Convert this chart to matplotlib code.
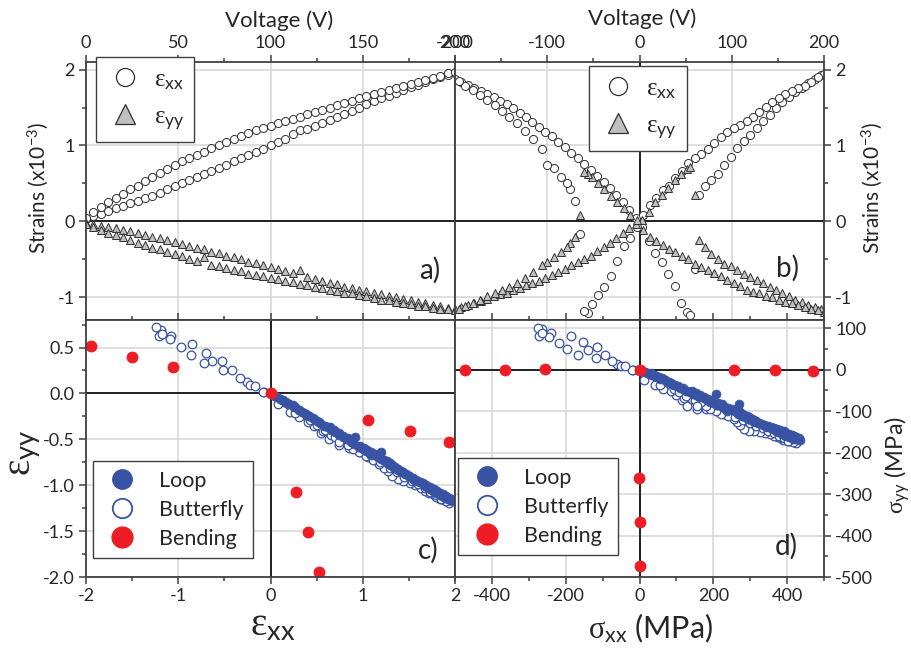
import numpy as np
import matplotlib
matplotlib.use('Agg')
import matplotlib.pyplot as plt
from matplotlib.lines import Line2D
from matplotlib.ticker import MultipleLocator, FormatStrFormatter

plt.rcParams['font.family'] = ['Lato', 'DejaVu Sans']
plt.rcParams['mathtext.fontset'] = 'custom'
plt.rcParams['mathtext.rm'] = 'Liberation Serif'
plt.rcParams['mathtext.it'] = 'Liberation Serif:italic'
plt.rcParams['mathtext.sf'] = 'Lato'
plt.rcParams['mathtext.fallback'] = 'stix'
plt.rcParams['axes.unicode_minus'] = False

# ---- panel a: loop, strains (x1e-3) vs voltage, 0 -> 200 V
volts_a = [0, 4, 8, 12, 16, 20, 24, 28, 32, 36, 40, 44, 48, 52, 56, 60, 64, 68, 72, 76,
           80, 84, 88, 92, 96, 100, 104, 108, 112, 116, 120, 124, 128, 132, 136, 140, 144,
           148, 152, 156, 160, 164, 168, 172, 176, 180, 184, 188, 192, 196, 200]
exx_a_up = [0.03, 0.07, 0.10, 0.14, 0.17, 0.20, 0.24, 0.27, 0.31, 0.34, 0.38, 0.42, 0.46,
            0.50, 0.54, 0.58, 0.62, 0.66, 0.70, 0.74, 0.79, 0.83, 0.87, 0.91, 0.96, 1.00,
            1.04, 1.08, 1.15, 1.20, 1.22, 1.26, 1.30, 1.34, 1.38, 1.42, 1.46, 1.50, 1.54,
            1.58, 1.62, 1.65, 1.69, 1.73, 1.77, 1.80, 1.84, 1.87, 1.90, 1.93, 1.96]
eyy_a_up = [-0.02, -0.04, -0.06, -0.07, -0.09, -0.11, -0.13, -0.15, -0.18, -0.20, -0.22,
            -0.25, -0.27, -0.30, -0.32, -0.35, -0.37, -0.40, -0.42, -0.45, -0.47, -0.50,
            -0.53, -0.55, -0.58, -0.60, -0.63, -0.66, -0.68, -0.64, -0.73, -0.76, -0.78,
            -0.81, -0.83, -0.86, -0.88, -0.90, -0.92, -0.94, -0.96, -0.98, -1.00, -1.02,
            -1.04, -1.06, -1.08, -1.10, -1.12, -1.14, -1.15]
exx_a_dn = [0.05, 0.12, 0.19, 0.25, 0.31, 0.36, 0.42, 0.47, 0.53, 0.59, 0.64, 0.69, 0.74,
            0.79, 0.84, 0.88, 0.92, 0.97, 1.01, 1.05, 1.09, 1.13, 1.17, 1.20, 1.23, 1.26,
            1.29, 1.32, 1.35, 1.38, 1.41, 1.44, 1.47, 1.50, 1.53, 1.56, 1.59, 1.62, 1.65,
            1.68, 1.71, 1.73, 1.76, 1.79, 1.81, 1.84, 1.86, 1.89, 1.92, 1.95, 1.97]
eyy_a_dn = [-0.03, -0.07, -0.11, -0.15, -0.18, -0.21, -0.25, -0.28, -0.31, -0.35, -0.37,
            -0.40, -0.43, -0.46, -0.49, -0.52, -0.47, -0.57, -0.59, -0.62, -0.64, -0.66,
            -0.69, -0.71, -0.72, -0.74, -0.76, -0.78, -0.80, -0.82, -0.84, -0.86, -0.88,
            -0.90, -0.92, -0.94, -0.95, -0.97, -0.99, -1.01, -1.03, -1.04, -1.06, -1.08,
            -1.09, -1.11, -1.12, -1.14, -1.15, -1.16, -1.17]

# ---- panel b: butterfly, -200 -> 200 V and back
volts_b_up = [-200, -193, -186, -179, -172, -165, -158, -151, -144, -137, -130, -123, -116,
              -109, -102, -95, -88, -81, -74, -67, -60, -53, -46, -39, -32, -25, -18, -11, -4,
              3, 10, 17, 24, 31, 38, 45, 51, 55, 60, 64, 71, 78, 85, 92, 99, 106, 113, 120,
              127, 134, 141, 148, 155, 162, 169, 176, 183, 190, 197]
exx_b_up = [1.88, 1.84, 1.80, 1.76, 1.72, 1.68, 1.64, 1.59, 1.54, 1.49, 1.43, 1.37, 1.31,
            1.25, 1.18, 1.12, 1.05, 0.98, 0.90, 0.83, 0.76, 0.68, 0.60, 0.52, 0.44, 0.35,
            0.25, 0.15, 0.05,
            -0.07, -0.26, -0.42, -0.53, -0.70, -0.85, -1.08, -1.19, -1.24, -0.63, 0.35, 0.47,
            0.55, 0.63, 0.74, 0.85, 0.97, 1.06, 1.14, 1.23, 1.32, 1.40, 1.49, 1.57, 1.64,
            1.70, 1.76, 1.82, 1.88, 1.93]
eyy_b_up = [-1.16, -1.13, -1.10, -1.07, -1.05, -1.02, -0.99, -0.96, -0.94, -0.91, -0.88,
            -0.84, -0.81, -0.78, -0.75, -0.71, -0.67, -0.63, -0.58, -0.54, -0.49, -0.45,
            -0.39, -0.34, -0.28, -0.22, -0.15, -0.09, -0.03,
            0.02, 0.12, 0.25, 0.35, 0.44, 0.54, 0.63, 0.69, 0.72, 0.35, -0.24, -0.34, -0.43,
            -0.50, -0.56, -0.59, -0.64, -0.69, -0.73, -0.77, -0.81, -0.86, -0.90, -0.95,
            -0.99, -1.03, -1.06, -1.10, -1.13, -1.16]
volts_b_dn = [200, 193, 186, 179, 172, 165, 158, 151, 144, 137, 130, 123, 116, 109, 102, 95,
              88, 81, 74, 67, 60, 53, 46, 39, 32, 25, 18, 11, 4,
              -3, -10, -17, -24, -31, -38, -45, -51, -56, -60, -65, -70, -75, -79, -85, -93,
              -100, -106, -115, -124, -133, -141, -149, -157, -165, -173, -181, -189, -196]
exx_b_dn = [1.94, 1.90, 1.84, 1.79, 1.76, 1.72, 1.68, 1.63, 1.57, 1.51, 1.44, 1.38, 1.32,
            1.27, 1.23, 1.18, 1.11, 1.03, 0.96, 0.89, 0.84, 0.77, 0.66, 0.57, 0.47, 0.41,
            0.31, 0.21, 0.08,
            -0.08, -0.22, -0.33, -0.52, -0.72, -0.86, -0.97, -1.09, -1.21, -1.18, -0.17,
            0.27, 0.43, 0.50, 0.59, 0.70, 0.74, 0.96, 1.09, 1.19, 1.29, 1.37, 1.45, 1.53,
            1.60, 1.67, 1.73, 1.79, 1.85]
eyy_b_dn = [-1.19, -1.17, -1.15, -1.13, -1.10, -1.08, -1.06, -1.03, -1.00, -0.98, -0.95,
            -0.93, -0.90, -0.85, -0.81, -0.77, -0.72, -0.68, -0.64, -0.60, -0.56, -0.50,
            -0.45, -0.41, -0.36, -0.31, -0.26, -0.20, -0.12,
            0.02, 0.09, 0.17, 0.25, 0.33, 0.42, 0.51, 0.59, 0.63, 0.65, 0.08, -0.21, -0.29,
            -0.34, -0.40, -0.47, -0.53, -0.58, -0.67, -0.75, -0.81, -0.86, -0.91, -0.95,
            -0.99, -1.03, -1.07, -1.11, -1.15]

# ---- bending reference points (strain x1e-3)
exx_bend = [-1.95, -1.50, -1.06, 0.0, 1.06, 1.51, 1.94, 0.28, 0.41, 0.525]
eyy_bend = [0.52, 0.40, 0.29, 0.0, -0.29, -0.41, -0.53, -1.07, -1.51, -1.95]

# plane-stress conversion, strains in 1e-3 -> MPa
E_mod = 243e3
nu = 0.267


def stress(exx, eyy):
    exx = np.asarray(exx) * 1e-3
    eyy = np.asarray(eyy) * 1e-3
    k = E_mod / (1 - nu ** 2)
    return k * (exx + nu * eyy), k * (eyy + nu * exx)


W, H = 911, 654
fig = plt.figure(figsize=(W / 100, H / 100), dpi=100)


def box(x0, y0, x1, y1):
    return [x0 / W, 1 - y1 / H, (x1 - x0) / W, (y1 - y0) / H]


def fpos(x, y):
    return x / W, 1 - y / H


ax_a = fig.add_axes(box(86, 62, 455, 320))
ax_b = fig.add_axes(box(455, 62, 824, 320))
ax_c = fig.add_axes(box(86, 320, 455, 577))
ax_d = fig.add_axes(box(455, 320, 824, 577))

spine_col = '#404040'
txt_col = '#262626'
grid_col = '#d6d6d6'
blue = '#3953a4'
red = '#ee1c24'

for ax in (ax_a, ax_b, ax_c, ax_d):
    for s in ax.spines.values():
        s.set_color(spine_col)
        s.set_linewidth(1.3)
    ax.tick_params(which='both', direction='out', color=spine_col,
                   labelsize=13, labelcolor=txt_col)
    ax.tick_params(which='major', length=5, width=1.1, pad=3)
    ax.tick_params(which='minor', length=3, width=1.1)
    ax.grid(True, which='major', color=grid_col, lw=1.1)
    ax.set_axisbelow(True)
    ax.axhline(0, color='black', lw=1.2, zorder=1)

# ---------- a)
ax = ax_a
ax.set_xlim(0, 200)
ax.set_ylim(-1.3, 2.1)
ax.xaxis.set_major_locator(MultipleLocator(50))
ax.xaxis.set_minor_locator(MultipleLocator(25))
ax.yaxis.set_major_locator(MultipleLocator(1))
ax.yaxis.set_minor_locator(MultipleLocator(0.5))
ax.tick_params(axis='x', which='both', top=True, bottom=False, labeltop=True, labelbottom=False)
ax.tick_params(axis='y', which='both', left=True, right=True, labelleft=True, labelright=False)
circ = dict(ls='none', marker='o', ms=5.8, mfc='white', mec='#303030', mew=0.7)
tri = dict(ls='none', marker='^', ms=6.4, mfc='#c0c0c0', mec='#303030', mew=0.7)
ax.plot(volts_a, exx_a_up, **circ)
ax.plot(volts_a, exx_a_dn, **circ)
ax.plot(volts_a, eyy_a_up, **tri)
ax.plot(volts_a, eyy_a_dn, **tri)

# ---------- b)
ax = ax_b
ax.set_xlim(-200, 200)
ax.set_ylim(-1.3, 2.1)
ax.xaxis.set_major_locator(MultipleLocator(100))
ax.xaxis.set_minor_locator(MultipleLocator(50))
ax.yaxis.set_major_locator(MultipleLocator(1))
ax.yaxis.set_minor_locator(MultipleLocator(0.5))
ax.tick_params(axis='x', which='both', top=True, bottom=False, labeltop=True, labelbottom=False)
ax.tick_params(axis='y', which='both', left=False, right=True, labelleft=False, labelright=True)
ax.axvline(0, color='black', lw=1.2, zorder=1)
ax.plot(volts_b_up, exx_b_up, **circ)
ax.plot(volts_b_dn, exx_b_dn, **circ)
ax.plot(volts_b_up, eyy_b_up, **tri)
ax.plot(volts_b_dn, eyy_b_dn, **tri)

# ---------- c)
ax = ax_c
ax.set_xlim(-2, 2)
ax.set_ylim(-2.0, 0.8)
ax.xaxis.set_major_locator(MultipleLocator(1))
ax.xaxis.set_minor_locator(MultipleLocator(0.5))
ax.yaxis.set_major_locator(MultipleLocator(0.5))
ax.yaxis.set_minor_locator(MultipleLocator(0.25))
ax.yaxis.set_major_formatter(FormatStrFormatter('%.1f'))
ax.tick_params(axis='x', which='both', top=True, bottom=True, labeltop=False, labelbottom=True)
ax.tick_params(axis='y', which='both', left=True, right=True, labelleft=True, labelright=False)
ax.axvline(0, color='black', lw=1.2, zorder=1)

loop_exx = exx_a_up + exx_a_dn
loop_eyy = eyy_a_up + eyy_a_dn
bfly_exx = exx_b_up + exx_b_dn
bfly_eyy = eyy_b_up + eyy_b_dn

open_b = dict(ls='none', marker='o', ms=6.2, mfc='white', mec=blue, mew=0.9)
fill_b = dict(ls='none', marker='o', ms=6.4, mfc=blue, mec=blue, mew=0.5)
bend = dict(ls='none', marker='o', ms=8.0, mfc=red, mec=red, mew=0.5)
ax.plot(bfly_exx, bfly_eyy, **open_b)
ax.plot(loop_exx, loop_eyy, **fill_b)
ax.plot(exx_bend, eyy_bend, **bend)

# ---------- d)
ax = ax_d
ax.set_xlim(-500, 500)
ax.set_ylim(-500, 120)
ax.xaxis.set_major_locator(MultipleLocator(200))
ax.xaxis.set_minor_locator(MultipleLocator(100))
ax.yaxis.set_major_locator(MultipleLocator(100))
ax.yaxis.set_minor_locator(MultipleLocator(50))
ax.tick_params(axis='x', which='both', top=True, bottom=True, labeltop=False, labelbottom=True)
ax.tick_params(axis='y', which='both', left=False, right=True, labelleft=False, labelright=True)
ax.axvline(0, color='black', lw=1.2, zorder=1)
sx, sy = stress(bfly_exx, bfly_eyy)
ax.plot(sx, sy, **open_b)
sx, sy = stress(loop_exx, loop_eyy)
ax.plot(sx, sy, **fill_b)
sx, sy = stress(exx_bend, eyy_bend)
ax.plot(sx, sy, **bend)

# ---------- legends
h_circ = Line2D([], [], ls='none', marker='o', ms=13, mfc='white', mec='#303030', mew=0.9)
h_tri = Line2D([], [], ls='none', marker='^', ms=14, mfc='#c0c0c0', mec='#303030', mew=0.9)
strain_labels = [r'$\mathrm{ε}_{\mathsf{xx}}$', r'$\mathrm{ε}_{\mathsf{yy}}$']
for ax, (x0, y0) in ((ax_a, (96, 57)), (ax_b, (589, 66))):
    lg = ax.legend([h_circ, h_tri], strain_labels, loc='upper left',
                   bbox_to_anchor=fpos(x0, y0), bbox_transform=fig.transFigure,
                   fontsize=18, frameon=True, fancybox=False, framealpha=1,
                   edgecolor=spine_col, borderpad=0.4, labelspacing=0.5,
                   handlelength=1.5, handletextpad=0.4, borderaxespad=0)
    lg.get_frame().set_linewidth(1.0)
    for t in lg.get_texts():
        t.set_color(txt_col)

h_loop = Line2D([], [], ls='none', marker='o', ms=14, mfc=blue, mec=blue)
h_bfly = Line2D([], [], ls='none', marker='o', ms=14, mfc='white', mec=blue, mew=1.3)
h_bend = Line2D([], [], ls='none', marker='o', ms=15, mfc=red, mec=red)
for ax, (x0, y0) in ((ax_c, (93, 461)), (ax_d, (458, 458))):
    lg = ax.legend([h_loop, h_bfly, h_bend], ['Loop', 'Butterfly', 'Bending'],
                   loc='upper left', bbox_to_anchor=fpos(x0, y0),
                   bbox_transform=fig.transFigure, fontsize=15.5, frameon=True,
                   fancybox=False, framealpha=1, edgecolor=spine_col, borderpad=0.45,
                   labelspacing=0.42, handlelength=1.8, handletextpad=0.8, borderaxespad=0)
    lg.get_frame().set_linewidth(1.0)
    for t in lg.get_texts():
        t.set_color(txt_col)

# ---------- axis titles and panel letters
fig.text(*fpos(279, 21), 'Voltage (V)', ha='center', va='center', fontsize=16, color=txt_col)
fig.text(*fpos(642, 19), 'Voltage (V)', ha='center', va='center', fontsize=16, color=txt_col)
fig.text(*fpos(38, 188), r'Strains (x10$^{\mathsf{-3}}$)', ha='center', va='center',
         rotation=90, fontsize=15, color=txt_col)
fig.text(*fpos(872, 188), r'Strains (x10$^{\mathsf{-3}}$)', ha='center', va='center',
         rotation=90, fontsize=15, color=txt_col)
fig.text(*fpos(25, 453), r'$\mathrm{ε}_{\mathsf{yy}}$', ha='center', va='center',
         rotation=90, fontsize=28, color=txt_col)
fig.text(*fpos(273, 625), r'$\mathrm{ε}_{\mathsf{xx}}$', ha='center', va='center',
         fontsize=28, color=txt_col)
fig.text(*fpos(651, 628), r'$\mathrm{σ}_{\mathsf{xx}}$ (MPa)', ha='center', va='center',
         fontsize=22, color=txt_col)
fig.text(*fpos(897, 465), r'$\mathrm{σ}_{\mathsf{yy}}$ (MPa)', ha='center', va='center',
         rotation=90, fontsize=17, color=txt_col)

for (x, y), s in (((430, 270), 'a)'), ((787, 268), 'b)'), ((428, 550), 'c)'), ((786, 546), 'd)')):
    fig.text(*fpos(x, y), s, ha='center', va='center', fontsize=20, color=txt_col)

fig.savefig('out.png', dpi=100)
